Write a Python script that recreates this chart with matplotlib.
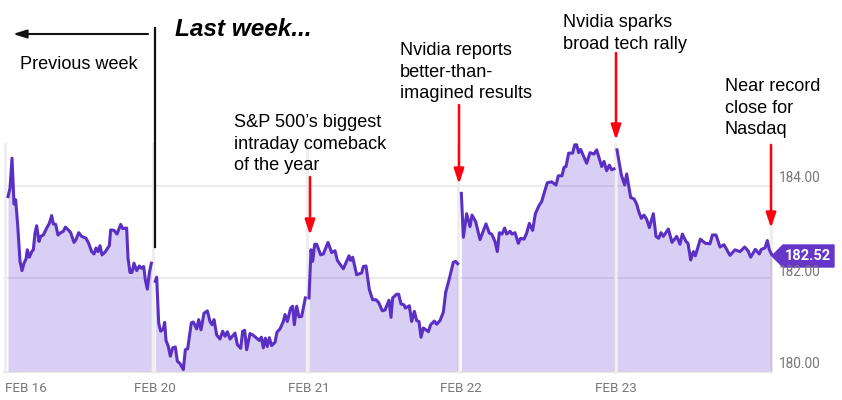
import matplotlib
matplotlib.use("Agg")
import matplotlib.pyplot as plt
from matplotlib.patches import Polygon

# Prices, one pair of lists per session.
# Times are in chart slots inside the session's stretch of the axis
feb16_t = [24, 30, 36, 42, 47, 53, 60, 66, 72, 78, 82, 88, 96, 100, 105, 110, 117, 122, 130, 140, 148,
           155, 160, 167, 174, 182, 190, 196, 205, 212, 222, 228, 236, 245, 258, 266, 275, 282, 288,
           294, 300, 306, 315, 328, 332, 342, 351, 362, 368, 380, 384, 390, 396, 402, 410, 418, 424,
           431, 436, 442, 448, 454]
feb16_p = [183.77, 183.95, 184.60, 183.61, 183.70, 183.16, 182.37, 182.17, 182.33, 182.42, 182.62,
           182.46, 182.59, 182.62, 182.98, 183.14, 182.80, 182.91, 182.94, 183.09, 183.19, 183.36,
           183.18, 183.17, 182.94, 182.99, 183.02, 183.11, 183.05, 182.99, 182.78, 182.84, 182.99,
           182.91, 182.87, 182.76, 182.58, 182.53, 182.66, 182.58, 182.71, 182.51, 182.57, 182.71,
           183.05, 183.04, 182.96, 183.17, 183.08, 183.09, 182.44, 182.13, 182.13, 182.33, 182.17,
           182.27, 182.22, 182.26, 181.97, 181.77, 182.12, 182.33]

feb20_t = [466, 470, 476, 482, 490, 494, 498, 505, 511, 518, 526, 532, 540, 550, 556, 563, 574, 580,
           590, 596, 603, 612, 622, 630, 636, 642, 650, 660, 668, 675, 682, 690, 705, 712, 722, 728,
           734, 740, 750, 758, 770, 778, 784, 790, 796, 802, 808, 815, 825, 831, 840, 850, 855, 862,
           872, 878, 883, 890, 897, 905, 916]
feb20_p = [181.94, 182.03, 181.04, 180.86, 180.91, 181.05, 180.66, 180.53, 180.32, 180.50, 180.52,
           180.21, 180.16, 180.03, 180.46, 180.48, 181.04, 181.06, 180.91, 181.11, 180.89, 181.25,
           181.30, 181.07, 181.00, 181.11, 180.78, 180.69, 180.86, 180.75, 180.85, 180.69, 180.82,
           180.57, 180.49, 180.86, 180.88, 180.46, 180.81, 180.78, 180.71, 180.66, 180.73, 180.50,
           180.71, 180.53, 180.72, 180.55, 180.62, 180.84, 180.91, 181.07, 181.22, 181.07, 181.36,
           181.40, 181.00, 181.40, 181.17, 181.18, 181.58]

feb21_t = [27, 33, 38, 44, 50, 62, 70, 84, 95, 105, 112, 130, 147, 152, 158, 170, 185, 190, 198, 208,
           218, 228, 236, 247, 255, 267, 273, 278, 290, 296, 303, 312, 316, 328, 335, 343, 350, 357,
           363, 370, 385, 392, 403, 410, 420, 430, 437, 446, 460, 467, 473]
feb21_p = [181.58, 182.62, 182.37, 182.74, 182.74, 182.51, 182.53, 182.78, 182.56, 182.60, 182.39,
           182.21, 182.49, 182.39, 182.46, 182.08, 182.12, 182.26, 182.27, 181.76, 181.54, 181.54,
           181.48, 181.30, 181.32, 181.53, 181.16, 181.58, 181.66, 181.66, 181.45, 181.43, 181.36,
           181.41, 181.07, 181.29, 181.09, 181.07, 180.73, 180.93, 180.85, 181.00, 181.08, 181.01,
           181.09, 181.27, 181.70, 181.94, 182.35, 182.37, 182.32]

feb22_t = [484, 490, 500, 510, 516, 527, 540, 558, 568, 575, 585, 592, 598, 606, 614, 620, 630, 636,
           645, 655, 662, 672, 680, 688, 698, 706, 718, 725, 735, 742, 755, 768, 775, 786, 792, 798,
           806, 818, 824, 830, 836, 842, 860, 870, 882, 890, 905, 912, 920, 928, 935, 942]
feb22_p = [183.84, 182.89, 183.40, 183.12, 183.37, 183.23, 182.84, 183.18, 182.98, 182.96, 182.80,
           182.58, 182.99, 182.96, 183.09, 182.96, 183.02, 182.96, 182.99, 182.76, 182.87, 182.85,
           182.98, 183.19, 183.04, 183.40, 183.59, 183.66, 183.91, 184.07, 184.09, 184.02, 184.22,
           184.22, 184.40, 184.42, 184.71, 184.71, 184.89, 184.89, 184.72, 184.79, 184.49, 184.72,
           184.69, 184.78, 184.42, 184.53, 184.33, 184.45, 184.35, 184.37]

feb23_t = [51, 64, 74, 80, 92, 102, 110, 116, 124, 132, 140, 148, 160, 168, 176, 183, 190, 205, 216,
           230, 240, 247, 258, 264, 272, 280, 286, 301, 316, 330, 337, 348, 360, 372, 390, 405, 420,
           434, 444, 452, 466, 478, 484, 495, 502, 508, 515]
feb23_p = [184.78, 184.24, 184.02, 184.26, 183.75, 183.72, 183.61, 183.45, 183.30, 183.37, 183.28,
           183.10, 183.40, 182.91, 182.87, 182.99, 182.91, 183.07, 182.78, 182.91, 182.74, 182.96,
           182.80, 182.76, 182.40, 182.58, 182.49, 182.85, 182.76, 182.75, 182.94, 182.94, 182.68,
           182.73, 182.50, 182.62, 182.58, 182.68, 182.60, 182.46, 182.63, 182.53, 182.63, 182.66,
           182.82, 182.62, 182.52]

sessions = [(feb16_t, feb16_p, -24), (feb20_t, feb20_p, -24), (feb21_t, feb21_p, 876),
            (feb22_t, feb22_p, 876), (feb23_t, feb23_p, 1776)]

y_ticks = [180, 182, 184]
y_labels = ["180.00", "182.00", "184.00"]
date_labels = ["FEB 16", "FEB 20", "FEB 21", "FEB 22", "FEB 23"]
last_price = "182.52"

W, H = 842, 400
PURPLE = "#5a30c4"
GREY = "#777777"


def fx(px):
    return px / W


def fy(py):
    return 1 - py / H


fig = plt.figure(figsize=(W / 100, H / 100), dpi=100)
ax = fig.add_axes([0, 0, 1, 1])
ax.set_xlim(-24, 2502)
ax.set_ylim(179.373, 188.02)
ax.axis("off")

# Grid lines and the pale session separators
for tick in y_ticks[1:]:
    ax.plot([-12, 2289], [tick, tick], color="#e6e6e6", lw=1.1, zorder=1)
ax.plot([-12, 2289], [179.98, 179.98], color="#e8e8e8", lw=1.4, zorder=1)
for sep in [-9, 435, 897, 1350, 1821, 2289]:
    ax.plot([sep, sep], [179.98, 184.9], color="#eeeeee", lw=2.0, zorder=1)

for t, p, offset in sessions:
    x = [v + offset for v in t]
    ax.fill_between(x, p, 180, color="#6a3fd0", alpha=0.25, lw=0, zorder=2)
    ax.plot(x, p, color=PURPLE, lw=2.2, solid_joinstyle="round", zorder=3)

# Price tag at the end of the line
tag = Polygon([(fx(772), fy(256)), (fx(783), fy(245)), (fx(834), fy(245)),
               (fx(834), fy(267)), (fx(783), fy(267))],
              transform=fig.transFigure, color="#6636c8", zorder=6)
ax.add_patch(tag)
fig.text(fx(808), fy(256.5), last_price, color="white", fontsize=10.5, fontweight="bold",
         family="Roboto", ha="center", va="center", zorder=7)

for label, py in zip(y_labels, [364, 272, 178]):
    fig.text(fx(779), fy(py), label, color=GREY, fontsize=9.8, family="Roboto", va="center")
for label, px in zip(date_labels, [26, 155, 309, 461, 616]):
    fig.text(fx(px), fy(388), label, color=GREY, fontsize=9.6, family="Roboto", ha="center", va="center")

# Hand-drawn style notes on top of the chart
notes = [
    ("Previous week", 20, 56),
    ("S&P 500\u2019s biggest\nintraday comeback\nof the year", 234, 114),
    ("Nvidia reports\nbetter-than-\nimagined results", 400, 42),
    ("Nvidia sparks\nbroad tech rally", 563, 14),
    ("Near record\nclose for\nNasdaq", 725, 78),
]
for text, px, py in notes:
    fig.text(fx(px), fy(py), text, fontsize=13.1, family="Liberation Sans", color="black",
             va="top", linespacing=1.36)
fig.text(fx(175), fy(29), "Last week...", fontsize=17.6, family="Liberation Sans",
         fontweight="bold", style="italic", color="black", va="center")

ax.plot([155 * 3 - 24] * 2, [184 + (186 - 28) / 46.25, 184 + (186 - 247) / 46.25],
        color="#111111", lw=1.6, zorder=5)


def arrow(x0, y0, x1, y1, color, lw, head):
    ax.annotate("", xy=(fx(x1), fy(y1)), xytext=(fx(x0), fy(y0)),
                xycoords="figure fraction", textcoords="figure fraction",
                arrowprops=dict(arrowstyle=head, color=color, lw=lw, shrinkA=0, shrinkB=0), zorder=5)


arrow(148, 34, 13, 34, "#111111", 1.5, "-|>,head_length=0.8,head_width=0.25")
red_head = "-|>,head_length=0.9,head_width=0.3"
arrow(310, 177, 310, 235, "#ff0010", 1.8, red_head)
arrow(459, 105, 459, 184, "#ff0010", 1.8, red_head)
arrow(616, 53, 616, 140, "#ff0010", 1.8, red_head)
arrow(771, 145, 771, 228, "#ff0010", 1.8, red_head)

fig.savefig("out.png", dpi=100)
